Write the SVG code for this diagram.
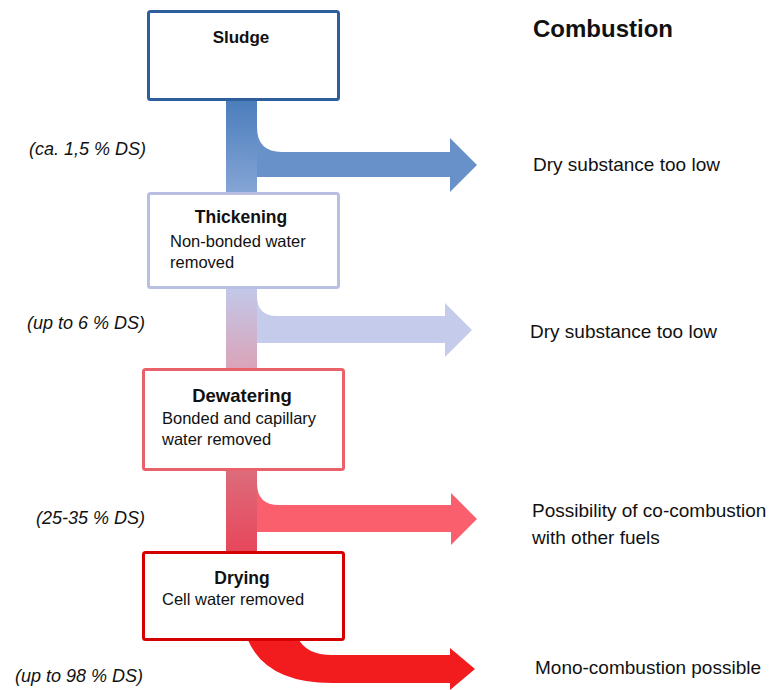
<svg xmlns="http://www.w3.org/2000/svg" width="774" height="690" viewBox="0 0 774 690">
<defs>
<style>
text{font-family:"Liberation Sans",Arial,sans-serif;fill:#111}
.ttl{font-weight:bold;font-size:17.5px;text-anchor:middle}
.sub{font-size:16.5px}
.rl{font-size:19px}
.ll{font-size:18px;font-style:italic;text-anchor:end}
.box{fill:#fff;stroke-width:3}
</style>
<linearGradient id="g1" x1="0" y1="0" x2="0" y2="1"><stop offset="0" stop-color="#4b7dbc"/><stop offset="1" stop-color="#86a6d6"/></linearGradient>
<linearGradient id="g2" x1="0" y1="0" x2="0" y2="1"><stop offset="0" stop-color="#c2c8ea"/><stop offset="1" stop-color="#dba3b7"/></linearGradient>
<linearGradient id="g3" x1="0" y1="0" x2="0" y2="1"><stop offset="0" stop-color="#dc6c7c"/><stop offset="1" stop-color="#e8465a"/></linearGradient>
</defs>
<rect width="774" height="690" fill="#fff"/>
<g id="connectors">
<path d="M241 100 L257 100 L257 127 Q257 152 282 152 L450 152 L450 138 L477 165 L450 192 L450 177 L241 177 Z" fill="#6791c8"/>
<rect x="226" y="100" width="31" height="94" fill="url(#g1)"/>
<path d="M241 288 L257 288 L257 296 Q257 316 277 316 L445 316 L445 303 L472 330 L445 357 L445 343 L241 343 Z" fill="#c5cbea"/>
<rect x="226" y="288" width="31" height="82" fill="url(#g2)"/>
<path d="M241 470 L257 470 L257 483 Q257 505 279 505 L451 505 L451 493 L477 519 L451 545 L451 532 L241 532 Z" fill="#f95f6d"/>
<rect x="226" y="470" width="31" height="83" fill="url(#g3)"/>
<path d="M247 638 L298 638 Q306 655 332 655 L450 655 L450 648 L475 669 L450 690 L450 683 L332 683 Q265 683 247 638 Z" fill="#f21c1f"/>
</g>
<g id="sludge">
<rect class="box" x="148.5" y="11.5" width="190" height="88" rx="2" stroke="#2f5e9c"/>
<text class="ttl" x="241" y="43" style="font-size:17px">Sludge</text>
</g>
<g id="thickening">
<rect class="box" x="148.5" y="193.5" width="190" height="94" rx="2" stroke="#b9bfe3"/>
<text class="ttl" x="241" y="223">Thickening</text>
<text class="sub" x="170" y="247">Non-bonded water</text>
<text class="sub" x="170" y="268">removed</text>
</g>
<g id="dewatering">
<rect class="box" x="143.5" y="369.5" width="200" height="100" rx="2" stroke="#e9626b"/>
<text class="ttl" x="242" y="402" style="font-size:18.5px">Dewatering</text>
<text class="sub" x="162" y="424">Bonded and capillary</text>
<text class="sub" x="162" y="445">water removed</text>
</g>
<g id="drying">
<rect class="box" x="143.5" y="552.5" width="200" height="87" rx="2" stroke="#d50000"/>
<text class="ttl" x="242" y="584">Drying</text>
<text class="sub" x="162" y="605">Cell water removed</text>
</g>
<g id="labels">
<text x="533" y="37" style="font-weight:bold;font-size:24px">Combustion</text>
<text class="rl" x="533" y="171">Dry substance too low</text>
<text class="rl" x="530" y="338">Dry substance too low</text>
<text class="rl" x="532" y="517">Possibility of co-combustion</text>
<text class="rl" x="532" y="544">with other fuels</text>
<text class="rl" x="535" y="674">Mono-combustion possible</text>
<text class="ll" x="146" y="155">(ca. 1,5 % DS)</text>
<text class="ll" x="145" y="329">(up to 6 % DS)</text>
<text class="ll" x="145" y="524">(25-35 % DS)</text>
<text class="ll" x="143" y="682">(up to 98 % DS)</text>
</g>
</svg>
